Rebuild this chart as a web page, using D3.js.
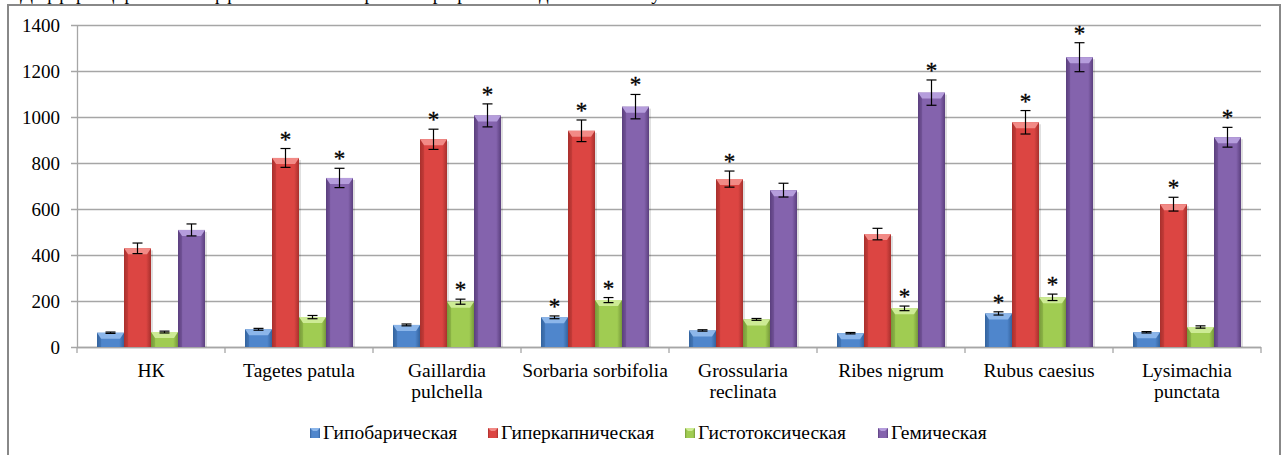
<!DOCTYPE html>
<html>
<head>
<meta charset="utf-8">
<script src="https://cdn.jsdelivr.net/npm/d3@7"></script>
<style>
  body { margin: 0; background: #fff; }
  svg { display: block; }
</style>
</head>
<body>
<div class="svg-container"></div>
<script>
// categories (x axis), line breaks as in the original
const categories = ['НК', 'Tagetes patula', 'Gaillardia\npulchella', 'Sorbaria sorbifolia',
  'Grossularia\nreclinata', 'Ribes nigrum', 'Rubus caesius', 'Lysimachia\npunctata'];

const seriesNames = ['Гипобарическая', 'Гиперкапническая', 'Гистотоксическая', 'Гемическая'];

// values
const hypobaric = [62, 77, 96, 129, 72, 60, 146, 64];
const hypobaricErr = [3, 4, 4, 6, 3, 3, 7, 3];
const hypobaricStar = [0, 0, 0, 1, 0, 0, 1, 0];

const hypercapnic = [429, 822, 903, 940, 730, 491, 977, 621];
const hypercapnicErr = [23, 41, 44, 47, 35, 25, 51, 30];
const hypercapnicStar = [0, 1, 1, 1, 1, 0, 1, 1];

const histotoxic = [65, 130, 197, 204, 120, 168, 216, 87];
const histotoxicErr = [4, 7, 11, 11, 4, 10, 14, 5];
const histotoxicStar = [0, 0, 1, 1, 0, 1, 1, 0];

const hemic = [509, 735, 1007, 1045, 682, 1106, 1260, 912];
const hemicErr = [26, 42, 50, 53, 30, 55, 63, 43];
const hemicStar = [0, 1, 1, 1, 0, 1, 1, 1];

const yTicks = [0, 200, 400, 600, 800, 1000, 1200, 1400];

const values = [hypobaric, hypercapnic, histotoxic, hemic];
const errors = [hypobaricErr, hypercapnicErr, histotoxicErr, hemicErr];
const stars = [hypobaricStar, hypercapnicStar, histotoxicStar, hemicStar];

const serif = '"Liberation Serif"';

// colours: edge, centre, bevel
const palette = [
  { edge: '#34639e', mid: '#4f86cc', top: '#8cb6ea' },
  { edge: '#a8302d', mid: '#dc4542', top: '#f28a86' },
  { edge: '#76983a', mid: '#a0cc52', top: '#cdeb95' },
  { edge: '#5b3f7e', mid: '#8463ad', top: '#b59ddc' },
];

const width = 1286;
const height = 455;
const margin = { top: 25, right: 25, bottom: 108, left: 77 };

const svg = d3.select('.svg-container')
  .append('svg')
  .attr('width', width)
  .attr('height', height);

// gradients for the bars
const defs = svg.append('defs');
palette.forEach((c, i) => {
  const g = defs.append('linearGradient')
    .attr('id', 'grad' + i)
    .attr('x1', '0%').attr('x2', '100%').attr('y1', '0%').attr('y2', '0%');
  g.append('stop').attr('offset', '0%').attr('stop-color', c.edge);
  g.append('stop').attr('offset', '18%').attr('stop-color', c.mid);
  g.append('stop').attr('offset', '50%').attr('stop-color', c.mid);
  g.append('stop').attr('offset', '82%').attr('stop-color', c.mid);
  g.append('stop').attr('offset', '100%').attr('stop-color', c.edge);
});

// heading line above the chart, cut off by the page top as in the original
svg.append('text')
  .attr('x', 20)
  .attr('y', -0.5)
  .style('font-size', '19px')
  .style('font-family', serif)
  .attr('fill', '#000')
  .text('Дифференцированная эффективность экстрактов при разных видах гипоксии у мышей');

// chart border
svg.append('rect')
  .attr('x', 8).attr('y', 5)
  .attr('width', 1272).attr('height', 470)
  .attr('fill', '#fff')
  .attr('stroke', '#888')
  .attr('stroke-width', 2);

// scales
const x0 = d3.scaleBand()
  .domain(categories)
  .range([margin.left, width - margin.right])
  .padding(0);

const x1 = d3.scaleBand()
  .domain(d3.range(seriesNames.length))
  .range([20, x0.bandwidth() - 20])
  .padding(0);

const y = d3.scaleLinear()
  .domain([0, 1400])
  .range([height - margin.bottom, margin.top]);

// grid lines
svg.append('g')
  .selectAll('line')
  .data(yTicks)
  .join('line')
  .attr('x1', margin.left - 6)
  .attr('x2', width - margin.right)
  .attr('y1', (d) => Math.round(y(d)) + 0.5)
  .attr('y2', (d) => Math.round(y(d)) + 0.5)
  .attr('stroke', '#a6a6a6')
  .attr('stroke-width', 1.3);

// y axis labels
const yAxis = d3.axisLeft(y).tickValues(yTicks).tickFormat(d3.format('d')).tickSize(0).tickPadding(17);
const yg = svg.append('g')
  .attr('transform', `translate(${margin.left}, 0)`)
  .call(yAxis);
yg.attr('font-family', null).attr('font-size', null);
yg.select('.domain').attr('stroke', '#a6a6a6').attr('stroke-width', 1.3);
yg.selectAll('text')
  .attr('fill', '#000')
  .style('font-size', '19px')
  .style('font-family', serif);

// x axis with ticks at category boundaries
const bounds = categories.map((c) => x0(c)).concat([width - margin.right]);
svg.append('g')
  .selectAll('line')
  .data(bounds)
  .join('line')
  .attr('x1', (d) => d).attr('x2', (d) => d)
  .attr('y1', y(0)).attr('y2', y(0) + 6)
  .attr('stroke', '#a6a6a6')
  .attr('stroke-width', 1.3);

svg.append('line')
  .attr('x1', margin.left).attr('x2', width - margin.right)
  .attr('y1', Math.round(y(0)) + 0.5).attr('y2', Math.round(y(0)) + 0.5)
  .attr('stroke', '#a6a6a6')
  .attr('stroke-width', 1.3);

// category labels
const catLabels = svg.append('g')
  .selectAll('text')
  .data(categories)
  .join('text')
  .attr('x', (d) => x0(d) + x0.bandwidth() / 2)
  .attr('y', y(0) + 30)
  .attr('text-anchor', 'middle')
  .style('font-size', '19.5px')
  .style('font-family', serif)
  .attr('fill', '#000');

catLabels.selectAll('tspan')
  .data((d) => d.split('\n'))
  .join('tspan')
  .attr('x', function () { return d3.select(this.parentNode).attr('x'); })
  .attr('dy', (d, i) => (i === 0 ? 0 : 21))
  .text((d) => d);

// bars
const barW = x1.bandwidth();
values.forEach((series, s) => {
  const g = svg.append('g');
  series.forEach((v, i) => {
    const bx = x0(categories[i]) + x1(s);
    const top = y(v);
    const bevel = Math.min(6, (y(0) - top) / 2);

    // soft shadow
    g.append('rect')
      .attr('x', bx + 2).attr('y', top + 2)
      .attr('width', barW).attr('height', y(0) - top - 2)
      .attr('fill', 'rgba(0,0,0,0.12)');

    g.append('rect')
      .attr('x', bx).attr('y', top)
      .attr('width', barW).attr('height', y(0) - top)
      .attr('fill', `url(#grad${s})`);

    // top bevel
    g.append('path')
      .attr('d', `M${bx},${top} L${bx + barW},${top} L${bx + barW - 4},${top + bevel} L${bx + 4},${top + bevel} Z`)
      .attr('fill', palette[s].top);
    g.append('path')
      .attr('d', `M${bx},${top} L${bx + 4},${top + bevel} L${bx + 4},${y(0)} L${bx},${y(0)} Z`)
      .attr('fill', palette[s].edge)
      .attr('opacity', 0.35);
  });
});

// error bars and stars
values.forEach((series, s) => {
  const g = svg.append('g');
  series.forEach((v, i) => {
    const cx = x0(categories[i]) + x1(s) + barW / 2;
    const e = errors[s][i];
    const hi = y(v + e);
    const lo = y(v - e);
    g.append('line')
      .attr('x1', cx).attr('x2', cx).attr('y1', hi).attr('y2', lo)
      .attr('stroke', '#000').attr('stroke-width', 1.2);
    [hi, lo].forEach((yy) => {
      g.append('line')
        .attr('x1', cx - 5).attr('x2', cx + 5).attr('y1', yy).attr('y2', yy)
        .attr('stroke', '#000').attr('stroke-width', 1.2);
    });
    if (stars[s][i]) {
      g.append('text')
        .attr('x', cx)
        .attr('y', hi - 2)
        .attr('text-anchor', 'middle')
        .style('font-size', '23px')
        .style('font-family', serif)
        .attr('fill', '#000')
        .attr('stroke', '#000').attr('stroke-width', 0.3)
        .text('*');
    }
  });
});

// legend
const legendX = [310, 488, 685, 878];
const legend = svg.append('g');
seriesNames.forEach((name, s) => {
  legend.append('rect')
    .attr('x', legendX[s]).attr('y', 428)
    .attr('width', 10).attr('height', 10)
    .attr('fill', `url(#grad${s})`);
  legend.append('path')
    .attr('d', `M${legendX[s]},428 L${legendX[s] + 10},428 L${legendX[s] + 7},431 L${legendX[s] + 3},431 Z`)
    .attr('fill', palette[s].top);
  legend.append('text')
    .attr('x', legendX[s] + 13)
    .attr('y', 439)
    .style('font-size', '19.5px')
    .style('font-family', serif)
    .attr('fill', '#000')
    .text(name);
});
</script>
</body>
</html>
